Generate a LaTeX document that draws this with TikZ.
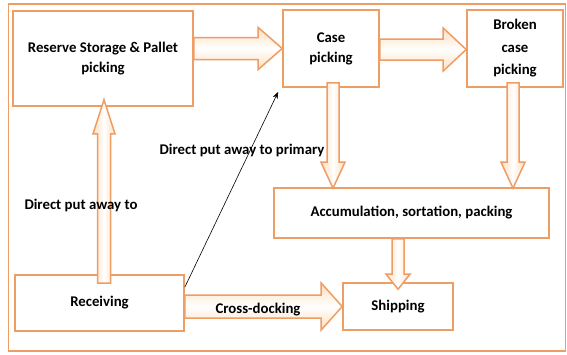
\documentclass[tikz,border=0pt]{standalone}
\usepackage{fontspec}
\setmainfont{Carlito}
\usetikzlibrary{calc,arrows.meta}

\definecolor{boxline}{RGB}{238,158,100}
\definecolor{peach}{RGB}{253,222,190}

\tikzset{
  box/.style={draw=boxline, line width=1.6pt, fill=white, align=center,
    font=\fontsize{14.8}{20}\selectfont\bfseries, inner sep=2pt},
  lbl/.style={font=\fontsize{14.8}{16}\selectfont\bfseries, inner sep=0pt},
  fatH/.style={draw=boxline, line width=1.5pt, line join=miter,
    top color=peach, bottom color=peach, middle color=white},
  fatV/.style={draw=boxline, line width=1.5pt, line join=miter,
    left color=peach, right color=peach, middle color=white},
  thin/.style={draw=black, line width=0.6pt, -{Stealth[length=7pt,width=5pt]}}
}

% block arrows: #1 start, #2 tip, #3 half shaft, #4 half head, #5 head length
\newcommand{\fatright}[5]{%
  \path[fatH] ($(#1)+(0,-#3)$) -- ($(#2)+(-#5,-#3)$) -- ($(#2)+(-#5,-#4)$) -- (#2)
    -- ($(#2)+(-#5,#4)$) -- ($(#2)+(-#5,#3)$) -- ($(#1)+(0,#3)$) -- cycle;}
\newcommand{\fatdown}[5]{%
  \path[fatV] ($(#1)+(-#3,0)$) -- ($(#2)+(-#3,-#5)$) -- ($(#2)+(-#4,-#5)$) -- (#2)
    -- ($(#2)+(#4,-#5)$) -- ($(#2)+(#3,-#5)$) -- ($(#1)+(#3,0)$) -- cycle;}
\newcommand{\fatup}[5]{%
  \path[fatV] ($(#1)+(-#3,0)$) -- ($(#2)+(-#3,#5)$) -- ($(#2)+(-#4,#5)$) -- (#2)
    -- ($(#2)+(#4,#5)$) -- ($(#2)+(#3,#5)$) -- ($(#1)+(#3,0)$) -- cycle;}

\begin{document}
\begin{tikzpicture}[x=1pt, y=-1pt]
  \useasboundingbox (0,0) rectangle (567,354);
  \fill[white] (0,0) rectangle (567,354);

  % outer frame
  \draw[boxline, line width=1.6pt] (8.5,4) rectangle (565.5,351);

  % process boxes
  \node[box, minimum width=180pt, minimum height=95pt] (res) at (103,58.5)
    {Reserve Storage \& Pallet\\picking};
  \node[box, minimum width=96pt, minimum height=77pt] (case) at (331,48.5)
    {Case\\picking};
  \node[box, minimum width=96pt, minimum height=77pt, font=\fontsize{14.8}{22.5}\selectfont\bfseries]
    (broken) at (515,48.5) {Broken\\case\\picking};
  \node[box, minimum width=275pt, minimum height=50pt] (acc) at (411.5,213)
    {Accumulation, sortation, packing};
  \node[box, minimum width=169pt, minimum height=56pt] (rec) at (99.5,303)
    {Receiving};
  \node[box, minimum width=110pt, minimum height=47pt] (ship) at (398,306.5)
    {Shipping};

  % anchor points for the block arrows
  \coordinate (a1s) at (res.east |- case.west);
  \coordinate (a2s) at ($(case.east)+(0,1)$);
  \coordinate (a2e) at ($(broken.west)+(0,1)$);
  \coordinate (a3s) at ($(case.south)+(2,-5)$);
  \coordinate (a3e) at ($(case.south |- acc.north)+(2,1)$);
  \coordinate (a4s) at ($(broken.south)+(-2,-5)$);
  \coordinate (a4e) at ($(broken.south |- acc.north)+(-2,1)$);
  \coordinate (a5s) at ($(ship.north |- acc.south)+(0,0)$);
  \coordinate (a5e) at ($(ship.north)+(0,7)$);
  \coordinate (a6s) at ($(res.south |- rec.north)+(1,9)$);
  \coordinate (a6e) at ($(res.south)+(1,-7)$);
  \coordinate (a7s) at (rec.east |- ship.west);

  % block arrows
  \fatright{a1s}{case.west}{11}{21}{24}
  \fatright{a2s}{a2e}{10.5}{21.5}{23}
  \fatdown{a3s}{a3e}{6}{12}{26}
  \fatdown{a4s}{a4e}{6}{12}{26}
  \fatdown{a5s}{a5e}{6}{12}{15}
  \fatup{a6s}{a6e}{6.5}{11}{34}
  \fatright{a7s}{ship.west}{11.5}{23.5}{21}

  % direct put away to primary
  \coordinate (d0) at ($(rec.north east)+(0,13)$);
  \coordinate (d1) at ($(case.south west)+(-4,4)$);
  \draw[thin] (d0) -- (d1);

  % arrow labels
  \node[lbl] (l1) at (242,150) {Direct put away to primary};
  \node[lbl] (l2) at (81,205) {Direct put away to};
  \node[lbl] (l3) at (258,310) {Cross-docking};
\end{tikzpicture}
\end{document}
